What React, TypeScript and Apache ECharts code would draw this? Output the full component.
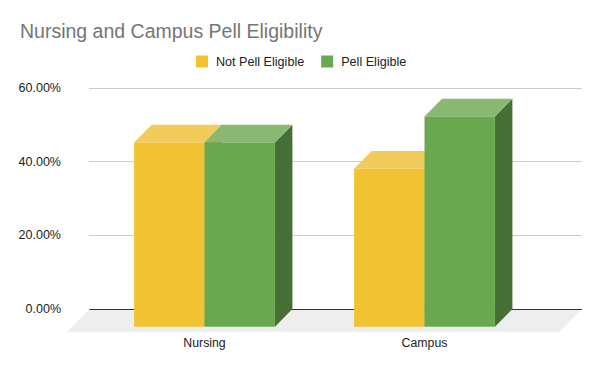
import React, { useEffect, useRef } from "react";
import * as echarts from "echarts";

const title = "Nursing and Campus Pell Eligibility";
const categories = ["Nursing", "Campus"];
const seriesNames = ["Not Pell Eligible", "Pell Eligible"];
const notPellValues = [50.0, 42.9];
const pellValues = [50.0, 57.1];
const yTicks = [0, 20, 40, 60];

const FRONT = ["#f1c232", "#6aa84f"];
const TOP = ["#f2cc5b", "#89b873"];
const SIDE = ["#b08d22", "#456f35"];
const DX = 17.5;
const DY = 17.7;
const FDX = 23;
const FDY = 23.3;
const BAR_FRAC = 0.32;

function makeBarRender(s: number) {
  return (params: any, api: any) => {
    const cat = api.value(0);
    const val = api.value(1);
    const top = api.coord([cat, val]);
    const base = api.coord([cat, 0]);
    const band = api.size([1, 0])[0];
    const w = band * BAR_FRAC;
    const x0 = top[0] - w + s * w;
    const yT = top[1];
    const yB = base[1];
    return {
      type: "group",
      children: [
        {
          type: "polygon",
          shape: {
            points: [
              [x0 + w - DX, yT + DY],
              [x0 + w, yT],
              [x0 + w, yB],
              [x0 + w - DX, yB + DY],
            ],
          },
          style: { fill: SIDE[s] },
        },
        {
          type: "polygon",
          shape: {
            points: [
              [x0 - DX, yT + DY],
              [x0 + w - DX, yT + DY],
              [x0 + w, yT],
              [x0, yT],
            ],
          },
          style: { fill: TOP[s] },
        },
        {
          type: "rect",
          shape: { x: x0 - DX, y: yT + DY, width: w, height: yB - yT },
          style: { fill: FRONT[s] },
        },
      ],
    };
  };
}

export default function App() {
  const ref = useRef<HTMLDivElement>(null);
  useEffect(() => {
    if (!ref.current) return;
    const chart = echarts.init(ref.current, null, { renderer: "svg" });
    const font = "Liberation Sans, Arial, sans-serif";
    const gridTop = 88;
    const gridBottom = 62;
    chart.setOption({
      animation: false,
      backgroundColor: "#ffffff",
      textStyle: { fontFamily: font },
      title: {
        text: title,
        left: 15,
        top: 16,
        textStyle: { color: "#757575", fontSize: 19.5, fontWeight: "normal", fontFamily: font },
      },
      legend: {
        data: seriesNames,
        left: 191,
        top: 50,
        icon: "rect",
        itemWidth: 12,
        itemHeight: 12,
        itemGap: 17,
        textStyle: { color: "#222222", fontSize: 12.6, fontFamily: font, padding: [0, 0, 0, 3] },
      },
      grid: [
        { left: 89, right: 18, top: gridTop, bottom: gridBottom },
        { left: 112, right: 48, top: gridTop, bottom: gridBottom },
      ],
      xAxis: [
        { type: "value", gridIndex: 0, min: 0, max: 1, show: false },
        {
          type: "category",
          gridIndex: 1,
          data: categories,
          axisLine: { show: false },
          axisTick: { show: false },
          axisLabel: {
            color: "#222222",
            fontSize: 12.3,
            fontFamily: font,
            margin: 28,
            padding: [0, 35, 0, 0],
          },
        },
      ],
      yAxis: [
        {
          type: "value",
          gridIndex: 0,
          min: yTicks[0],
          max: yTicks[yTicks.length - 1],
          interval: yTicks[1] - yTicks[0],
          axisLine: { show: false },
          axisTick: { show: false },
          axisLabel: {
            color: "#222222",
            fontSize: 12.5,
            fontFamily: font,
            margin: 28,
            formatter: (v: number) => v.toFixed(2) + "%",
          },
          splitLine: { lineStyle: { color: "#cccccc", width: 1 } },
        },
        {
          type: "value",
          gridIndex: 1,
          min: yTicks[0],
          max: yTicks[yTicks.length - 1],
          show: false,
          splitLine: { show: false },
        },
      ],
      series: [
        {
          type: "custom",
          name: "floor",
          xAxisIndex: 0,
          yAxisIndex: 0,
          z: 1,
          silent: true,
          data: [[0, 0]],
          renderItem: (params: any) => {
            const cs = params.coordSys;
            const yb = cs.y + cs.height;
            const xl = cs.x + 0.5;
            const xr = cs.x + cs.width;
            return {
              type: "group",
              children: [
                {
                  type: "polygon",
                  shape: {
                    points: [
                      [xl, yb],
                      [xr, yb],
                      [xr - FDX, yb + FDY],
                      [xl - FDX, yb + FDY],
                    ],
                  },
                  style: { fill: "#eeeeee" },
                },
                {
                  type: "line",
                  shape: { x1: xl, y1: yb + 0.5, x2: xr, y2: yb + 0.5 },
                  style: { stroke: "#333333", lineWidth: 1 },
                },
              ],
            };
          },
        },
        {
          type: "custom",
          name: seriesNames[0],
          xAxisIndex: 1,
          yAxisIndex: 1,
          z: 2,
          itemStyle: { color: FRONT[0] },
          data: notPellValues.map((v, i) => [i, v]),
          renderItem: makeBarRender(0),
        },
        {
          type: "custom",
          name: seriesNames[1],
          xAxisIndex: 1,
          yAxisIndex: 1,
          z: 3,
          itemStyle: { color: FRONT[1] },
          data: pellValues.map((v, i) => [i, v]),
          renderItem: makeBarRender(1),
        },
      ],
    });
    return () => chart.dispose();
  }, []);
  return <div ref={ref} style={{ width: 600, height: 371, margin: -8 }} />;
}
